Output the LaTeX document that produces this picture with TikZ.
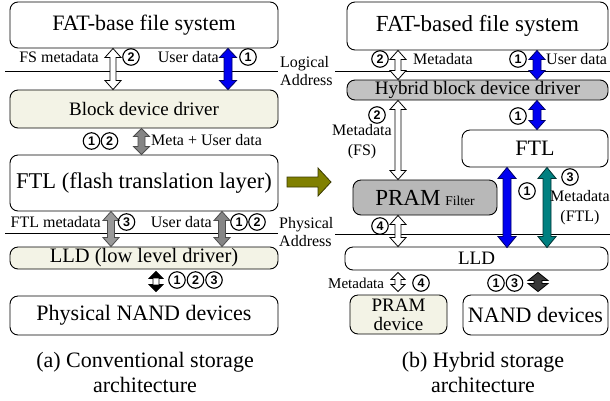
\documentclass[tikz,border=0pt]{standalone}
\usepackage{fontspec}
\setmainfont{Liberation Serif}
\newfontfamily\numfont{Liberation Sans}
\usetikzlibrary{calc}

\definecolor{cream}{HTML}{F3F3E6}
\definecolor{hatchgray}{HTML}{C2C2C2}
\definecolor{filtergray}{HTML}{B8B8B8}
\definecolor{arrowblue}{HTML}{0000F0}
\definecolor{arrowteal}{HTML}{008080}
\definecolor{arrowolive}{HTML}{808000}

% vertical double-headed block arrow at x = #2 between points #3 (top) and #4 (bottom)
% #5 shaft half width, #6 head half width, #7 head length (all in pt)
\newcommand\bidir[7]{%
  \draw[#1] let \p1=(#3), \p2=(#4) in
    (#2pt,\y1) -- (#2pt+#6pt,\y1-#7pt) -- (#2pt+#5pt,\y1-#7pt)
    -- (#2pt+#5pt,\y2+#7pt) -- (#2pt+#6pt,\y2+#7pt) -- (#2pt,\y2)
    -- (#2pt-#6pt,\y2+#7pt) -- (#2pt-#5pt,\y2+#7pt)
    -- (#2pt-#5pt,\y1-#7pt) -- (#2pt-#6pt,\y1-#7pt) -- cycle;}
% solid heads only, laid over a hollow arrow
\newcommand\bidirheads[6]{%
  \fill[#1] let \p1=(#3), \p2=(#4) in
    (#2pt,\y1) -- (#2pt+#5pt,\y1-#6pt) -- (#2pt-#5pt,\y1-#6pt) -- cycle
    (#2pt,\y2) -- (#2pt+#5pt,\y2+#6pt) -- (#2pt-#5pt,\y2+#6pt) -- cycle;}

\begin{document}
\begin{tikzpicture}[x=1pt,y=-1pt,
  layer/.style={draw, rounded corners=8pt, line width=0.9pt, inner sep=0pt, align=center},
  num/.style={circle, draw, line width=1.1pt, inner sep=0pt, minimum size=16.5pt,
    font=\numfont\bfseries\fontsize{12.5}{12.5}\selectfont},
  lbl/.style={inner sep=0pt, font=\fontsize{16}{20}\selectfont},
  hollow/.style={draw=black, fill=white, line width=0.8pt},
  bluearr/.style={draw=black!60!blue, fill=arrowblue, line width=0.8pt},
  tealarr/.style={draw=black!60!arrowteal, fill=arrowteal, line width=0.8pt},
  grayarr/.style={draw=black!70, fill=black!40, line width=0.8pt},
  checkarr/.style={draw=black!70, fill=black!48, line width=0.8pt},
  darkarr/.style={draw=black, fill=black!78, line width=0.8pt},
  sepline/.style={line width=0.9pt},
]
\useasboundingbox (0,0) rectangle (610,400);

% ---------------- (a) conventional stack ----------------
\node[layer, minimum width=268pt, minimum height=46pt, font=\fontsize{22}{24}\selectfont]
  (fs) at (144,25) {FAT-base file system};
\node[layer, fill=cream, minimum width=268pt, minimum height=38pt, font=\fontsize{19}{22}\selectfont]
  (bdd) at (144,109) {Block device driver};
\node[layer, minimum width=268pt, minimum height=56pt, font=\fontsize{22.5}{24}\selectfont]
  (ftl) at (144,183) {FTL (flash translation layer)};
\node[layer, fill=cream, minimum width=268pt, minimum height=22pt, font=\fontsize{20.5}{22}\selectfont]
  (lld) at (144,258) {LLD (low level driver)};
\node[layer, minimum width=268pt, minimum height=39pt, font=\fontsize{22}{24}\selectfont]
  (nand) at (144,315.5) {Physical NAND devices};

\draw[sepline] (5,71) -- (278,71);
\draw[sepline] (5,233) -- (278,233);

% file system <-> block driver
\node[lbl, anchor=east] (fsmeta) at (99,57) {FS metadata};
\bidir{hollow}{113}{fs.south}{bdd.north}{3}{8}{9}
\node[num] (a2) at (131,57) {2};
\node[lbl, anchor=east] (ud1) at (219,57) {User data};
\bidir{bluearr}{228}{fs.south}{bdd.north}{4}{8.5}{9}
\node[num] (a1) at (248,57) {1};

% block driver <-> FTL
\node[num] (b1) at (91.5,141) {1};
\node[num] (b2) at (109.5,141) {2};
\bidir{checkarr}{141.5}{bdd.south}{ftl.north}{3.5}{8}{8}
\node[lbl, anchor=west] (mud) at (151,140) {Meta + User data};

% FTL <-> LLD
\node[lbl, anchor=east] (ftlmeta) at (101,222) {FTL metadata};
\bidir{grayarr}{111}{ftl.south}{lld.north}{3.5}{8}{9}
\node[num] (c3) at (126.5,222) {3};
\node[lbl, anchor=east] (ud2) at (212,222) {User data};
\bidir{checkarr}{222}{ftl.south}{lld.north}{3.5}{8}{9}
\node[num] (c1) at (239,222) {1};
\node[num] (c2) at (257,222) {2};

% LLD <-> NAND
\bidir{hollow}{156}{[yshift=-2pt]lld.south}{[yshift=4pt]nand.north}{3}{7}{7}
\bidirheads{black}{156}{[yshift=-2pt]lld.south}{[yshift=4pt]nand.north}{7}{7}
\node[num] (d1) at (177,280) {1};
\node[num] (d2) at (195.5,280) {2};
\node[num] (d3) at (214,280) {3};

\node[align=center, inner sep=0pt, font=\fontsize{22}{25}\selectfont]
  (capa) at (145,372) {(a) Conventional storage\\architecture};

% address labels shared by both stacks
\node[lbl, anchor=west, align=left, font=\fontsize{16}{18}\selectfont]
  (logaddr) at (280,71) {Logical\\Address};
\node[lbl, anchor=west, align=left, font=\fontsize{16}{18}\selectfont]
  (phyaddr) at (279,232) {Physical\\Address};

% transition arrow
\filldraw[fill=arrowolive, draw=black!55!arrowolive, line width=0.8pt]
  (287,177) -- (318,177) -- (318,168) -- (331,182) -- (318,196) -- (318,187) -- (287,187) -- cycle;

% ---------------- (b) hybrid stack ----------------
\node[layer, minimum width=261pt, minimum height=48pt, font=\fontsize{23}{24}\selectfont]
  (fs2) at (477.5,26) {FAT-based file system};
\node[layer, fill=hatchgray, minimum width=261pt, minimum height=20pt, font=\fontsize{19}{20}\selectfont]
  (hbd) at (477.5,90) {Hybrid block device driver};
\node[layer, minimum width=146pt, minimum height=37pt, font=\fontsize{22}{24}\selectfont]
  (ftl2) at (535,148.5) {FTL};
\node[layer, fill=filtergray, minimum width=144pt, minimum height=35pt]
  (pram) at (425,197.5) {{\fontsize{23}{24}\selectfont PRAM}\hspace{5pt}{\fontsize{13.5}{15}\selectfont Filter}};
\node[layer, minimum width=263pt, minimum height=23pt, font=\fontsize{19}{20}\selectfont]
  (lld2) at (476.5,258.5) {LLD};
\node[layer, fill=cream, minimum width=97pt, minimum height=39pt, font=\fontsize{19}{19}\selectfont]
  (pramdev) at (398.5,314.5) {PRAM\\device};
\node[layer, minimum width=145pt, minimum height=40pt, font=\fontsize{22}{24}\selectfont]
  (nand2) at (535.5,315) {NAND devices};

\draw[sepline] (335,71) -- (610,71);
\draw[sepline] (335,234) -- (610,234);

% file system <-> hybrid driver
\node[num] (e2) at (380,59) {2};
\bidir{hollow}{398}{fs2.south}{hbd.north}{3}{8}{9}
\node[lbl, anchor=west] (meta1) at (413,59) {Metadata};
\node[num] (e1) at (518,59) {1};
\bidir{bluearr}{537}{fs2.south}{hbd.north}{4}{8}{9}
\node[lbl, anchor=west] (ud3) at (546,59) {User data};

% hybrid driver <-> PRAM filter / FTL
\node[num] (f2) at (377,115) {2};
\node[lbl, align=center] (metafs) at (362,142) {Metadata\\(FS)};
\bidir{hollow}{398}{hbd.south}{pram.north}{3}{8}{9}
\node[num] (f1) at (518,116) {1};
\bidir{bluearr}{537}{hbd.south}{ftl2.north}{4}{8}{9}

% FTL <-> LLD
\bidir{bluearr}{507}{ftl2.south}{[yshift=-1pt]lld2.north}{4}{9}{11}
\node[num] (g1) at (527,191) {1};
\bidir{tealarr}{547}{ftl2.south}{[yshift=-1pt]lld2.north}{4}{9}{11}
\node[num] (g3) at (570,177) {3};
\node[lbl, align=center] (metaftl) at (580,208) {Metadata\\(FTL)};

% PRAM filter <-> LLD
\node[num] (h4) at (380,226) {4};
\bidir{hollow}{398}{pram.south}{lld2.north}{3}{8}{9}

% LLD <-> devices
\node[lbl, anchor=west, font=\fontsize{15}{18}\selectfont] (meta2) at (328,283) {Metadata};
\bidir{hollow}{398}{[yshift=-2pt]lld2.south}{[yshift=3pt]pramdev.north}{3}{7}{7}
\node[num] (i4) at (421,283) {4};
\node[num] (i1) at (496,283) {1};
\node[num] (i3) at (514.5,283) {3};
\bidir{darkarr}{538}{[yshift=-2pt]lld2.south}{[yshift=3pt]nand2.north}{4}{10}{8}

\node[align=center, inner sep=0pt, font=\fontsize{22}{25}\selectfont]
  (capb) at (483,372) {(b) Hybrid storage\\architecture};
\end{tikzpicture}
\end{document}
